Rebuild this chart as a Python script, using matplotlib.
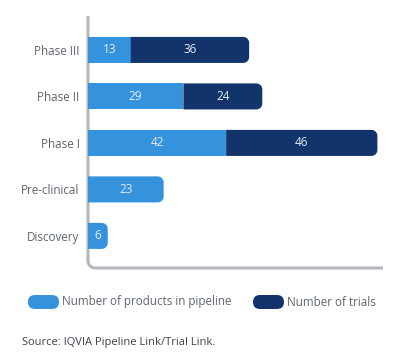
import numpy as np
import matplotlib.pyplot as plt
from matplotlib.patches import FancyBboxPatch, Polygon

plt.rcParams['font.family'] = ['Open Sans', 'DejaVu Sans']

# Data, bottom to top
stages = ['Discovery', 'Pre-clinical', 'Phase I', 'Phase II', 'Phase III']
products = [6, 23, 42, 29, 13]
trials = [0, 0, 46, 24, 36]

light = '#3592dc'
dark = '#12346a'
spine_col = '#b3b6bb'
text_col = '#5d6570'

W, H = 400, 360
pos = [0.22, 0.2556, 0.7375, 0.70]
fig = plt.figure(figsize=(W / 100, H / 100), dpi=100)
ax = fig.add_axes(pos)

xmax, ylo, yhi = 89.7, -0.69, 4.73
ax.set_xlim(0, xmax)
ax.set_ylim(ylo, yhi)

h = 0.56
# pixels per data unit, used for round corners
px_x = pos[2] * W / xmax
px_y = pos[3] * H / (yhi - ylo)
r = 6.0
rx, ry = r / px_x, r / px_y
theta = np.linspace(0, np.pi / 2, 10)


def seg(y, left, width, color, rounded):
    y0, y1 = y - h / 2, y + h / 2
    right = left + width
    if rounded:
        cx = right - rx
        top = [(cx + rx * np.sin(t), y1 - ry + ry * np.cos(t)) for t in theta]
        bot = [(cx + rx * np.cos(t), y0 + ry - ry * np.sin(t)) for t in theta]
        pts = [(left, y0), (left, y1)] + top + bot
    else:
        pts = [(left, y0), (left, y1), (right, y1), (right, y0)]
    ax.add_patch(Polygon(pts, closed=True, fc=color, ec='none', zorder=2))
    ax.text(left + width / 2, y, str(width), ha='center', va='center',
            color='#e6eef7', fontsize=8.5, zorder=3)


for i, (p, t) in enumerate(zip(products, trials)):
    seg(i, 0, p, light, t == 0)
    if t:
        seg(i, p, t, dark, True)

ax.set_yticks(range(len(stages)))
ax.set_yticklabels(stages, fontsize=8.4, color=text_col)
ax.set_xticks([])
ax.tick_params(axis='y', length=0, pad=6)
for s in ax.spines.values():
    s.set_visible(False)

# axis lines with a rounded bottom-left corner
ax_w, ax_h = pos[2] * W, pos[3] * H
cr = 7.0
phi = np.linspace(np.pi, 1.5 * np.pi, 12)
lx = [0, 0] + list(cr / ax_w + cr / ax_w * np.cos(phi)) + [1]
ly = [1, cr / ax_h] + list(cr / ax_h + cr / ax_h * np.sin(phi)) + [0]
ax.plot(lx, ly, color=spine_col, lw=2.2, transform=ax.transAxes,
        clip_on=False, solid_capstyle='butt', zorder=1)

# legend
legend_items = [('Number of products in pipeline', light, 28),
                ('Number of trials', dark, 253)]
leg_y = 302
for label, col, x0 in legend_items:
    fig.patches.append(FancyBboxPatch((x0 / W, 1 - (leg_y + 7) / H), 31 / W, 14 / H,
                                      boxstyle='round,pad=0,rounding_size=0.0175',
                                      mutation_aspect=W / H,
                                      transform=fig.transFigure, fc=col, ec='none'))
    fig.text((x0 + 34) / W, 1 - leg_y / H, label, ha='left', va='center',
             fontsize=8.4, color=text_col)

fig.text(22 / W, 1 - 343 / H, 'Source: IQVIA Pipeline Link/Trial Link.',
         ha='left', va='center', fontsize=8, color='#3c4048')

fig.savefig('out.png', dpi=100)
